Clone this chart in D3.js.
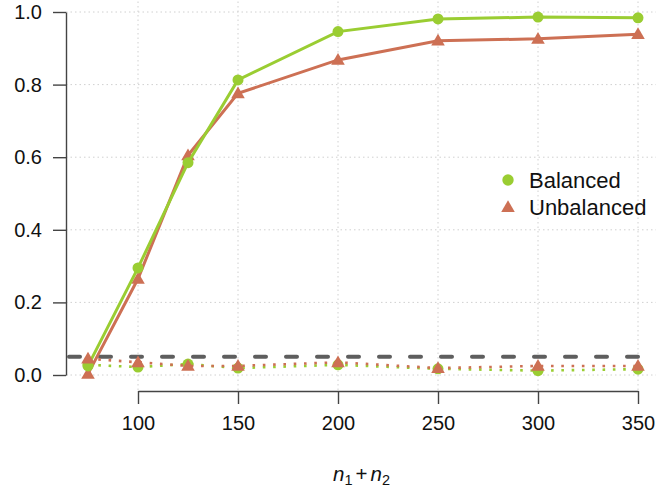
<!DOCTYPE html>
<html>
<head>
<meta charset="utf-8">
<script src="https://cdn.jsdelivr.net/npm/d3@7"></script>
<style>
  html, body { margin: 0; padding: 0; background: #fff; }
  svg { display: block; font-family: 'Liberation Sans', Arial, sans-serif; }
  .grid line { stroke: #d0d0d0; stroke-width: 1; stroke-dasharray: 1.5,3; }
  .axis path, .axis line { stroke: #444; stroke-width: 1.4; }
  .axis text { font-size: 20px; fill: #111; font-family: 'Liberation Sans', Arial, sans-serif; }
</style>
</head>
<body>
<svg id="chart" width="656" height="489"></svg>
<script>
// DATA
const sizes = [75, 100, 125, 150, 200, 250, 300, 350];
const powerBalanced = [0.025, 0.295, 0.585, 0.813, 0.946, 0.981, 0.986, 0.984];
const powerUnbalanced = [0.003, 0.265, 0.605, 0.776, 0.868, 0.921, 0.926, 0.939];
const typeIBalanced = [0.028, 0.022, 0.03, 0.019, 0.028, 0.017, 0.012, 0.016];
const typeIUnbalanced = [0.045, 0.035, 0.025, 0.025, 0.035, 0.019, 0.025, 0.025];
const alphaLevel = 0.05;
const xTicks = [100, 150, 200, 250, 300, 350];
const yTicks = [0, 0.2, 0.4, 0.6, 0.8, 1.0];
const seriesNames = ['Balanced', 'Unbalanced'];

const green = '#9acd32',
  salmon = '#cd7054';

// SETUP
let svg = d3.select('svg'),
  x = d3.scaleLinear().domain([75, 350]).range([88, 638]),
  y = d3.scaleLinear().domain([0, 1]).range([375, 12]),
  plotLeft = 66,
  plotRight = 660,
  plotTop = -3,
  plotBottom = 391;

// GRID
let grid = svg.append('g').attr('class', 'grid');
grid.selectAll('.gy')
  .data(yTicks)
  .enter()
  .append('line')
  .attr('x1', plotLeft)
  .attr('x2', plotRight)
  .attr('y1', d => y(d))
  .attr('y2', d => y(d));
grid.selectAll('.gx')
  .data(xTicks)
  .enter()
  .append('line')
  .attr('x1', d => x(d))
  .attr('x2', d => x(d))
  .attr('y1', plotTop)
  .attr('y2', plotBottom);

// AXES
let xAxisScale = x.copy().domain([100, 350]).range([x(100), x(350)]);
svg.append('g')
  .attr('class', 'axis axis--x')
  .attr('transform', 'translate(0,' + plotBottom + ')')
  .call(d3.axisBottom(xAxisScale).tickValues(xTicks).tickSizeInner(13).tickSizeOuter(0).tickPadding(12))
  .selectAll('text')
  .attr('dy', '0.71em');

svg.append('g')
  .attr('class', 'axis axis--y')
  .attr('transform', 'translate(' + plotLeft + ',0)')
  .call(d3.axisLeft(y).tickValues(yTicks).tickFormat(d3.format('.1f')).tickSizeInner(13).tickSizeOuter(0).tickPadding(11));

// X AXIS LABEL
let xlab = svg.append('text')
  .attr('x', 333)
  .attr('y', 481)
  .style('font-size', '20.5px')
  .style('fill', '#111');
xlab.append('tspan').style('font-style', 'italic').text('n');
xlab.append('tspan').attr('dy', 4).style('font-size', '14.5px').text('1');
xlab.append('tspan').attr('dy', -4).attr('dx', 3).text('+');
xlab.append('tspan').attr('dx', 3).style('font-style', 'italic').text('n');
xlab.append('tspan').attr('dy', 4).style('font-size', '14.5px').text('2');

// REFERENCE LINE
svg.append('line')
  .attr('x1', plotLeft + 3)
  .attr('x2', plotRight)
  .attr('y1', y(alphaLevel))
  .attr('y2', y(alphaLevel))
  .style('stroke', '#5e5e5e')
  .style('stroke-width', 4)
  .style('stroke-linecap', 'round')
  .style('stroke-dasharray', '11,20');

const line = d3.line().x(d => x(d[0])).y(d => y(d[1]));
const pairs = vals => sizes.map((s, i) => [s, vals[i]]);
const triangle = d3.symbol().type(d3.symbolTriangle).size(80);

function drawSeries(vals, color, shape, dotted) {
  let g = svg.append('g');
  g.append('path')
    .datum(pairs(vals))
    .attr('d', line)
    .style('fill', 'none')
    .style('stroke', color)
    .style('stroke-width', dotted ? 2.6 : 3)
    .style('stroke-dasharray', dotted ? '2.6,7.7' : null);
  let pts = g.selectAll('.pt').data(pairs(vals)).enter();
  if (shape === 'circle') {
    pts.append('circle')
      .attr('cx', d => x(d[0]))
      .attr('cy', d => y(d[1]))
      .attr('r', 5.5)
      .style('fill', color);
  } else {
    pts.append('path')
      .attr('d', triangle)
      .attr('transform', d => 'translate(' + x(d[0]) + ',' + (y(d[1]) + 1) + ')')
      .style('fill', color);
  }
}

drawSeries(powerUnbalanced, salmon, 'triangle', false);
drawSeries(powerBalanced, green, 'circle', false);
drawSeries(typeIBalanced, green, 'circle', true);
drawSeries(typeIUnbalanced, salmon, 'triangle', true);

// LEGEND
let legend = svg.append('g').attr('transform', 'translate(508,180)');
legend.append('circle').attr('r', 5.7).style('fill', green);
legend.append('path')
  .attr('d', triangle)
  .attr('transform', 'translate(0,28)')
  .style('fill', salmon);
legend.selectAll('.lt')
  .data(seriesNames)
  .enter()
  .append('text')
  .attr('x', 21)
  .attr('y', (d, i) => i * 27)
  .attr('dy', '0.36em')
  .style('font-size', '22px')
  .style('fill', '#111')
  .text(d => d);
</script>
</body>
</html>
